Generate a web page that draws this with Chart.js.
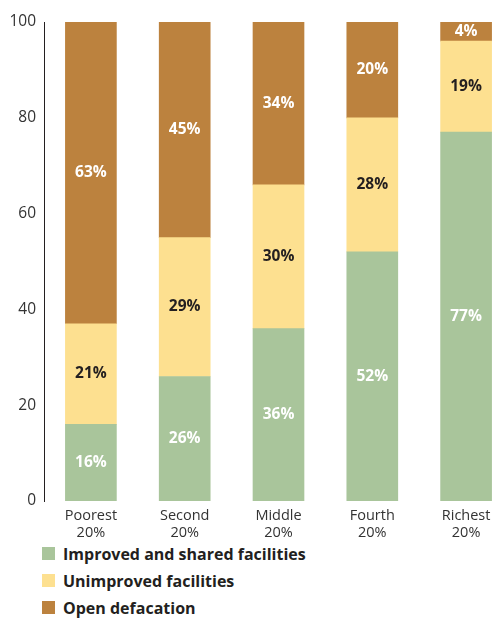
<!DOCTYPE html>
<html>
<head>
<meta charset="utf-8">
<script src="https://cdn.jsdelivr.net/npm/chart.js@4"></script>
<style>
  html, body { margin: 0; padding: 0; background: #fff; overflow: hidden; }
  #wrap { position: relative; width: 513px; height: 540px; }
  #legend { margin: 0 0 0 42px; font-family: "Open Sans", sans-serif; font-weight: bold; font-size: 16px; color: #231f20; }
  #legend div { height: 27px; display: flex; align-items: center; }
  #legend span.box { display: inline-block; width: 13px; height: 13px; margin-right: 8px; }
</style>
</head>
<body>
<div id="wrap"><canvas id="chart" width="513" height="540"></canvas></div>
<div id="legend"></div>
<script>
// quintile groups and shares (%)
const categories = [['Poorest', '20%'], ['Second', '20%'], ['Middle', '20%'], ['Fourth', '20%'], ['Richest', '20%']];
const improved = [16, 26, 36, 52, 77];
const unimproved = [21, 29, 30, 28, 19];
const openDef = [63, 45, 34, 20, 4];
const yTicks = [0, 20, 40, 60, 80, 100];

const seriesNames = ['Improved and shared facilities', 'Unimproved facilities', 'Open defacation'];
const colors = ['#a9c59b', '#fde090', '#bc823e'];
const labelColors = ['#ffffff', '#231f20', '#ffffff'];

// draws the % value in the middle of each bar segment
const valueLabels = {
  id: 'valueLabels',
  afterDatasetsDraw(chart) {
    const ctx = chart.ctx;
    ctx.save();
    ctx.font = 'bold 15.5px "Open Sans", sans-serif';
    ctx.textAlign = 'center';
    ctx.textBaseline = 'middle';
    chart.data.datasets.forEach((ds, i) => {
      const meta = chart.getDatasetMeta(i);
      meta.data.forEach((bar, j) => {
        const v = ds.data[j];
        let y = (bar.y + bar.base) / 2;
        ctx.fillStyle = labelColors[i];
        ctx.fillText(v + '%', bar.x, y);
      });
    });
    ctx.restore();
  }
};

const ctx = document.getElementById('chart').getContext('2d');
new Chart(ctx, {
  type: 'bar',
  data: {
    labels: categories,
    datasets: [
      { label: seriesNames[0], data: improved, backgroundColor: colors[0] },
      { label: seriesNames[1], data: unimproved, backgroundColor: colors[1] },
      { label: seriesNames[2], data: openDef, backgroundColor: colors[2] }
    ]
  },
  options: {
    responsive: false,
    animation: false,
    layout: { padding: { top: 22, left: 0, right: 0, bottom: 0 } },
    barThickness: 51,
    plugins: { legend: { display: false }, tooltip: { enabled: false } },
    scales: {
      x: {
        stacked: true,
        grid: { display: false, drawTicks: false },
        border: { display: false },
        ticks: { color: '#333', font: { family: '"Open Sans", sans-serif', size: 14.5 }, padding: 6 },
        afterFit: s => { s.height = 39; }
      },
      y: {
        stacked: true,
        min: 0,
        max: 100,
        afterBuildTicks: s => { s.ticks = yTicks.map(v => ({ value: v })); },
        grid: { display: false, drawTicks: false },
        border: { display: true, color: '#231f20', width: 1 },
        ticks: { color: '#333', font: { family: '"Open Sans", sans-serif', size: 15.5 }, padding: 8 },
        afterFit: s => { s.width = 44; }
      }
    }
  },
  plugins: [valueLabels]
});

const legend = document.getElementById('legend');
seriesNames.forEach((name, i) => {
  const row = document.createElement('div');
  const box = document.createElement('span');
  box.className = 'box';
  box.style.background = colors[i];
  row.appendChild(box);
  row.appendChild(document.createTextNode(name));
  legend.appendChild(row);
});
</script>
</body>
</html>
